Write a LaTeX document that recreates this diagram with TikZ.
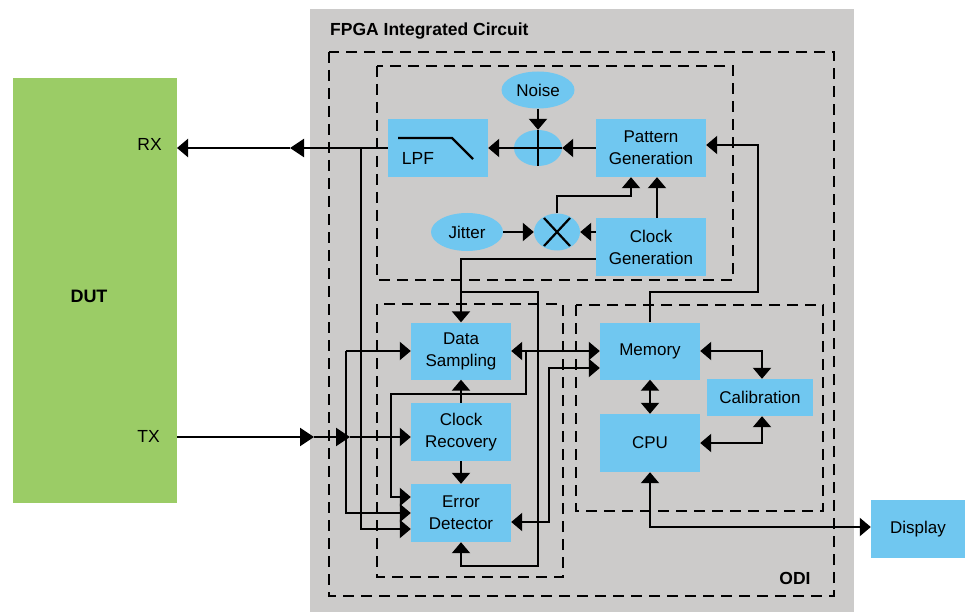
\documentclass[tikz,border=0pt]{standalone}
\usepackage{fontspec}
\setmainfont{Liberation Sans}
\usetikzlibrary{arrows.meta,shapes.geometric,calc}
\definecolor{fpgagray}{RGB}{204,203,202}
\definecolor{dutgreen}{RGB}{155,204,102}
\definecolor{boxblue}{RGB}{112,199,240}
\tikzset{
  box/.style={fill=boxblue,draw=none,inner sep=0pt,align=center,font=\fontsize{17}{22}\selectfont},
  oval/.style={ellipse,fill=boxblue,draw=none,inner sep=0pt,font=\fontsize{17}{22}\selectfont},
  wire/.style={line width=2.2pt,black},
  arr/.style={wire,-{Triangle[length=11pt,width=18pt]}},
  darr/.style={wire,{Triangle[length=11pt,width=18pt]}-{Triangle[length=11pt,width=18pt]}},
  marr/.style={wire,-{Triangle[length=14pt,width=18pt]}},
  dashbox/.style={line width=2.5pt,dash pattern=on 11pt off 7pt},
  lbl/.style={inner sep=0pt,font=\fontsize{17.5}{20}\selectfont},
  blbl/.style={inner sep=0pt,font=\bfseries\fontsize{17.5}{20}\selectfont}
}
\begin{document}
\begin{tikzpicture}[x=1pt,y=-1pt]
\useasboundingbox (0,0) rectangle (965,612);
% backgrounds
\fill[fpgagray] (310,9) rectangle (854,612);
\fill[dutgreen] (13,78) rectangle (177,503);
\node[blbl,anchor=base west] (title) at (330,36) {FPGA Integrated Circuit};
\node[blbl,font=\bfseries\fontsize{18}{20}\selectfont] (dutlabel) at (89,296) {DUT};
\node[lbl,anchor=east] (rxlabel) at (162,144) {RX};
\node[lbl,anchor=east] (txlabel) at (160,436) {TX};
\node[blbl] (odilabel) at (795,578) {ODI};
% dashed boxes
\draw[dashbox] (329,52) rectangle (834,596);
\draw[dashbox] (377,66) rectangle (733,280);
\draw[dashbox] (377,304) rectangle (563,577);
\draw[dashbox] (576,305) rectangle (823,511);
% nodes
\node[box,minimum width=100pt,minimum height=58pt] (lpf) at (438,148) {};
\node[lbl] (lpft) at ($(lpf)+(-20,10)$) {LPF};
\node[box,minimum width=110pt,minimum height=58pt] (pg) at (651,148) {Pattern\\Generation};
\node[box,minimum width=110pt,minimum height=58pt] (cg) at (651,247) {Clock\\Generation};
\node[oval,minimum width=73pt,minimum height=37pt] (noise) at (538,90) {Noise};
\node[oval,minimum width=48pt,minimum height=36pt] (add) at (538,148) {};
\node[oval,minimum width=72pt,minimum height=38pt] (jitter) at (467,232) {Jitter};
\node[oval,minimum width=46pt,minimum height=37pt] (mult) at (557,232) {};
\node[box,minimum width=100pt,minimum height=57pt] (ds) at (461,351) {Data\\Sampling};
\node[box,minimum width=100pt,minimum height=58pt] (cr) at (461,432) {Clock\\Recovery};
\node[box,minimum width=100pt,minimum height=58pt] (ed) at (461,513) {Error\\Detector};
\node[box,minimum width=100pt,minimum height=57pt] (mem) at (650,351) {Memory};
\node[box,minimum width=100pt,minimum height=58pt] (cpu) at (650,443) {CPU};
\node[box,minimum width=106pt,minimum height=37pt] (cal) at (760,397.5) {Calibration};
\node[box,minimum width=94pt,minimum height=58pt] (disp) at (918,529) {Display};
% symbols inside
\draw[wire] ($(lpf)+(-40,-10)$) -- ($(lpf)+(14,-10)$) -- ($(lpf)+(35,11)$);
\draw[wire] (add.north) -- (add.south);
\draw[wire] (add.west) -- (add.east);
\draw[wire] ($(mult)+(-13,-14)$) -- ($(mult)+(13,14)$);
\draw[wire] ($(mult)+(13,-14)$) -- ($(mult)+(-13,14)$);
% coordinates
\coordinate (rxmid) at (290,148);
\coordinate (rxend) at (177,148);
\coordinate (rxtap) at (361,148);
\coordinate (txstart) at (177,437);
\coordinate (txmid) at (314,437);
\coordinate (txjun) at (350,437);
\coordinate (jv) at (346,437);
\coordinate (edA) at ($(ed.west)+(0,-16)$);
\coordinate (edC) at ($(ed.west)+(0,16)$);
\coordinate (edR) at ($(ed.east)+(0,9)$);
\coordinate (memB) at ($(mem.west)+(0,17)$);
\coordinate (cgL) at ($(cg.west)+(0,12)$);
\coordinate (pgR) at ($(pg.east)+(0,-3)$);
% top section
\draw[arr] (pg.west) -- (add.east);
\draw[arr] (add.west) -- (lpf.east);
\draw[arr] (noise.south) -- (add.north);
\draw[arr] (jitter.east) -- (mult.west);
\draw[arr] (cg.west |- mult) -- (mult.east);
\draw[arr] (mult.north) |- ($(pg.south)+(-20,19)$) -- ($(pg.south)+(-20,0)$);
\draw[arr] ($(cg.north)+(6,0)$) -- ($(pg.south)+(6,0)$);
% RX
\draw[marr] (lpf.west) -- (rxmid);
\draw[arr] (rxmid) -- (rxend);
\draw[arr] (rxtap) |- (edC);
% TX
\draw[marr] (txstart) -- (txmid);
\draw[marr] (txmid) -- (txjun);
\draw[arr] (txjun) -- (cr.west |- txjun);
\draw[arr] (jv |- ds.west) -- (ds.west);
\draw[arr] (jv |- ds.west) |- (ed.west);
% clock recovery
\draw[arr] (cr.north) -- (ds.south);
\draw[arr] (cr.south) -- (ed.north);
% data sampling / memory
\draw[darr] (ds.east) -- (mem.west);
\draw[arr] (526,351) -- (526,394) -- (391,394) |- (edA);
\draw[darr] (edR) -- (549,522) |- (memB);
% clock generation to data sampling and error detector
\draw[arr] (cgL) -| (ds.north);
\draw[arr] (461,292) -- (538,292) -- (538,566) -| (ed.south);
% memory to pattern generation
\draw[arr] (mem.north) |- (758,292) |- (pgR);
% ODI block
\draw[darr] (mem.south) -- (cpu.north);
\draw[darr] (mem.east) -| ($(cal.north)+(2,0)$);
\draw[darr] (cpu.east) -| ($(cal.south)+(2,0)$);
\draw[darr] (cpu.south) |- ($(disp.west)+(0,-2)$);
\end{tikzpicture}
\end{document}
